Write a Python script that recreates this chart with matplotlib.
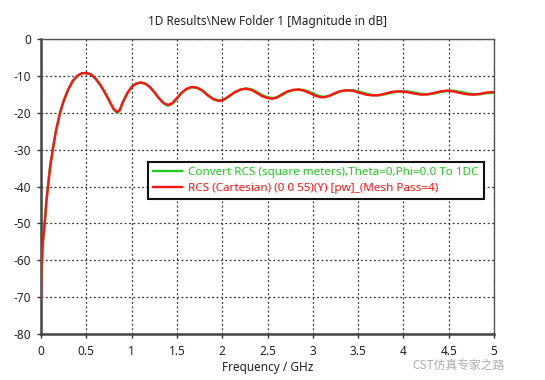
import matplotlib
matplotlib.use("Agg")
import matplotlib.pyplot as plt

freq_red = [0.0, 0.003, 0.008, 0.02, 0.04, 0.06, 0.08, 0.10, 0.13, 0.165, 0.21, 0.25, 0.30, 0.35,
            0.40, 0.45, 0.50, 0.55, 0.60, 0.65, 0.70, 0.75, 0.80, 0.84, 0.87, 0.90, 0.95, 1.00,
            1.05, 1.10, 1.15, 1.20, 1.25, 1.30, 1.35, 1.40, 1.45, 1.50, 1.55, 1.60, 1.66, 1.72,
            1.78, 1.84, 1.90, 1.96, 2.02, 2.08, 2.14, 2.20, 2.26, 2.32, 2.38, 2.44, 2.50, 2.55,
            2.60, 2.66, 2.72, 2.78, 2.84, 2.90, 2.96, 3.02, 3.08, 3.13, 3.19, 3.25, 3.31, 3.38,
            3.45, 3.52, 3.59, 3.66, 3.73, 3.80, 3.88, 3.96, 4.04, 4.12, 4.20, 4.27, 4.34, 4.41,
            4.48, 4.55, 4.62, 4.70, 4.77, 4.84, 4.92, 5.00]
rcs_red = [-70.5, -65, -60, -55, -50, -44, -39.5, -35, -30, -25, -20, -16.8, -13.7, -11.4,
           -10.0, -9.3, -9.2, -9.6, -10.7, -12.3, -14.3, -16.6, -18.9, -19.8, -19.2, -17.3, -14.8, -13.0,
           -12.1, -11.8, -12.1, -13.0, -14.4, -16.0, -17.3, -17.9, -17.4, -16.0, -14.6, -13.6, -13.0, -13.2,
           -14.0, -15.3, -16.3, -16.8, -16.4, -15.4, -14.4, -13.7, -13.5, -13.8, -14.6, -15.5, -16.0, -16.2,
           -15.9, -15.0, -14.2, -13.8, -13.7, -14.0, -14.6, -15.3, -15.8, -15.8, -15.3, -14.6, -14.1, -13.9,
           -14.1, -14.6, -15.1, -15.3, -15.2, -14.8, -14.3, -14.2, -14.4, -14.8, -15.1, -15.0, -14.6, -14.2,
           -14.0, -14.2, -14.6, -15.0, -15.1, -14.9, -14.5, -14.4]

freq_green = [0.0, 0.008, 0.02, 0.04, 0.06, 0.08, 0.10, 0.13, 0.165, 0.21, 0.25, 0.30, 0.35,
              0.40, 0.45, 0.50, 0.55, 0.60, 0.65, 0.70, 0.75, 0.80, 0.84, 0.87, 0.90, 0.95, 1.00,
              1.05, 1.10, 1.15, 1.20, 1.25, 1.30, 1.35, 1.40, 1.45, 1.50, 1.55, 1.60, 1.66, 1.72,
              1.78, 1.84, 1.90, 1.96, 2.02, 2.08, 2.14, 2.20, 2.26, 2.32, 2.38, 2.44, 2.50, 2.55,
              2.60, 2.66, 2.72, 2.78, 2.84, 2.90, 2.96, 3.02, 3.08, 3.13, 3.19, 3.25, 3.31, 3.38,
              3.45, 3.52, 3.59, 3.66, 3.73, 3.80, 3.88, 3.96, 4.04, 4.12, 4.20, 4.27, 4.34, 4.41,
              4.48, 4.55, 4.62, 4.70, 4.77, 4.84, 4.92, 5.00]
rcs_green = [-65, -62, -56, -50.5, -43.5, -39, -34.5, -29.8, -24.8, -20, -16.8, -13.7, -11.4,
             -10.0, -9.3, -9.2, -9.6, -10.7, -12.3, -14.3, -16.6, -19.0, -20.1, -19.4, -17.3, -14.8, -13.0,
             -12.1, -11.8, -12.1, -13.0, -14.4, -16.0, -17.4, -18.1, -17.6, -16.2, -14.7, -13.7, -13.1, -13.2,
             -13.9, -15.1, -16.2, -16.7, -16.4, -15.5, -14.5, -13.8, -13.4, -13.6, -14.3, -15.2, -15.8, -16.0,
             -15.9, -15.2, -14.4, -13.9, -13.7, -13.8, -14.3, -15.0, -15.5, -15.7, -15.4, -14.8, -14.2, -13.9,
             -13.9, -14.3, -14.8, -15.2, -15.3, -15.0, -14.5, -14.2, -14.2, -14.5, -14.9, -15.0, -14.8, -14.4,
             -14.1, -14.0, -14.3, -14.7, -15.0, -15.0, -14.7, -14.6]

x_ticks = [0, 0.5, 1, 1.5, 2, 2.5, 3, 3.5, 4, 4.5, 5]
x_tick_labels = ["0", "0.5", "1", "1.5", "2", "2.5", "3", "3.5", "4", "4.5", "5"]
y_ticks = [-80, -70, -60, -50, -40, -30, -20, -10, 0]
y_tick_labels = ["-80", "-70", "-60", "-50", "-40", "-30", "-20", "-10", "0"]

label_green = "Convert RCS (square meters),Theta=0,Phi=0.0 To 1DC"
label_red = "RCS (Cartesian) (0 0 55)(Y) [pw]_(Mesh Pass=4)"
title = "1D Results\\New Folder 1 [Magnitude in dB]"
xlabel = "Frequency / GHz"
watermark = "CST仿真专家之路"

plt.rcParams['font.family'] = ['Noto Sans', 'DejaVu Sans']
fig = plt.figure(figsize=(5.45, 3.8), dpi=100)
ax = fig.add_axes([41/545, 1-334/380, (494-41)/545, (334-39)/380])

green_c = "#22c822"
red_c = "#ff1414"
ax.plot(freq_green, rcs_green, color=green_c, lw=1.7, label=label_green, zorder=3)
ax.plot(freq_red, rcs_red, color=red_c, lw=1.7, label=label_red, zorder=4)

ax.set_xlim(0, 5)
ax.set_ylim(-80, 0)
ax.set_xticks(x_ticks)
ax.set_xticklabels(x_tick_labels)
ax.set_yticks(y_ticks)
ax.set_yticklabels(y_tick_labels)
ax.tick_params(labelsize=8.5, colors="#333333", labelcolor="#222222", length=3, width=1,
               direction="out")
ax.tick_params(axis="x", pad=5)
ax.tick_params(axis="y", pad=4)
ax.grid(True, color="#333333", linestyle=(0, (1.5, 2)), linewidth=0.9)

for s in ["left", "bottom"]:
    ax.spines[s].set_color("#444444")
    ax.spines[s].set_linewidth(1.8)
for s in ["top", "right"]:
    ax.spines[s].set_color("#555555")
    ax.spines[s].set_linewidth(1.0)

ax.set_title(title, fontsize=8.5, color="#222222", pad=10)
ax.set_xlabel(xlabel, fontsize=8.5, color="#222222", labelpad=2)

leg = ax.legend(loc="upper left", bbox_to_anchor=((148-41)/453, 1 - (162-39)/295),
                borderaxespad=0, fontsize=8.4, frameon=True, fancybox=False, framealpha=1,
                edgecolor="#111111", handlelength=2.5, borderpad=0.45, labelspacing=0.35,
                handletextpad=0.5)
leg.get_frame().set_linewidth(1.5)
for t, c in zip(leg.get_texts(), [green_c, red_c]):
    t.set_color(c)

fig.text(505/545, 1-365/380, watermark, ha="right", va="center", fontsize=8.5,
         color="#999999", alpha=0.8, family=["Noto Sans CJK SC", "DejaVu Sans"])

fig.savefig("out.png", dpi=100, facecolor="white")
